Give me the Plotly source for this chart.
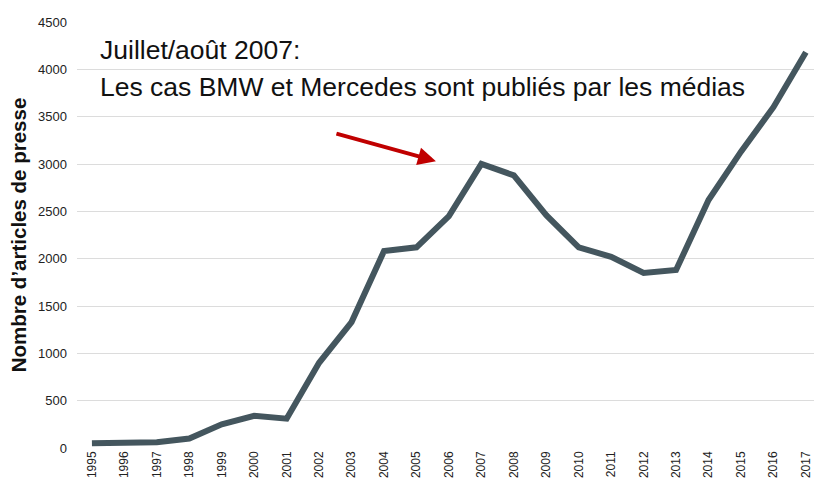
import plotly.graph_objects as go

years = list(range(1995, 2018))
articles = [50, 60, 60, 100, 250, 340, 310, 900, 1330, 2080, 2120, 2450, 3000,
            2880, 2460, 2120, 2020, 1850, 1880, 2620, 3130, 3600, 4180]
y_ticks = [0, 500, 1000, 1500, 2000, 2500, 3000, 3500, 4000, 4500]
note_lines = ["Juillet/août 2007:", "Les cas BMW et Mercedes sont publiés par les médias"]

fig = go.Figure()
fig.add_trace(go.Scatter(x=years, y=articles, mode="lines",
                         line=dict(color="#44565e", width=6),
                         showlegend=False))

# texte (2 lignes) + fleche rouge
for txt, yp in zip(note_lines, [0.934, 0.847]):
    fig.add_annotation(x=0.028, y=yp, xref="paper", yref="paper",
                       xanchor="left", yanchor="middle", showarrow=False, text=txt,
                       font=dict(family="Liberation Sans, Arial", size=26.5, color="#111111"))
fig.add_annotation(x=2005.6, y=3030, ax=-101, ay=-28, text="",
                   showarrow=True, arrowhead=2, arrowsize=0.9, arrowwidth=4,
                   arrowcolor="#c00000")

fig.update_layout(
    width=814, height=484,
    margin=dict(l=77, r=0, t=22, b=36),
    plot_bgcolor="white", paper_bgcolor="white",
    font=dict(family="Liberation Sans, Arial", color="#222222"),
    xaxis=dict(range=[1994.54, 2017.25], tickvals=years, ticktext=[str(y) for y in years],
               tickangle=-90, tickfont=dict(size=12), showgrid=False, zeroline=False,
               showline=False, ticks="", automargin=False),
    yaxis=dict(range=[0, 4500], tickvals=y_ticks, tickfont=dict(size=13),
               gridcolor="#dcdcdc", gridwidth=1, zeroline=False, showline=False,
               ticks="", ticklen=0, automargin=False, ticklabelstandoff=9,
               title=dict(text="<b>Nombre d’articles de presse</b>", standoff=5,
                          font=dict(size=20.5, color="#111111"))),
)

fig.write_html("out.html", config={"displayModeBar": False},
               post_script="document.body.style.margin='0';")
